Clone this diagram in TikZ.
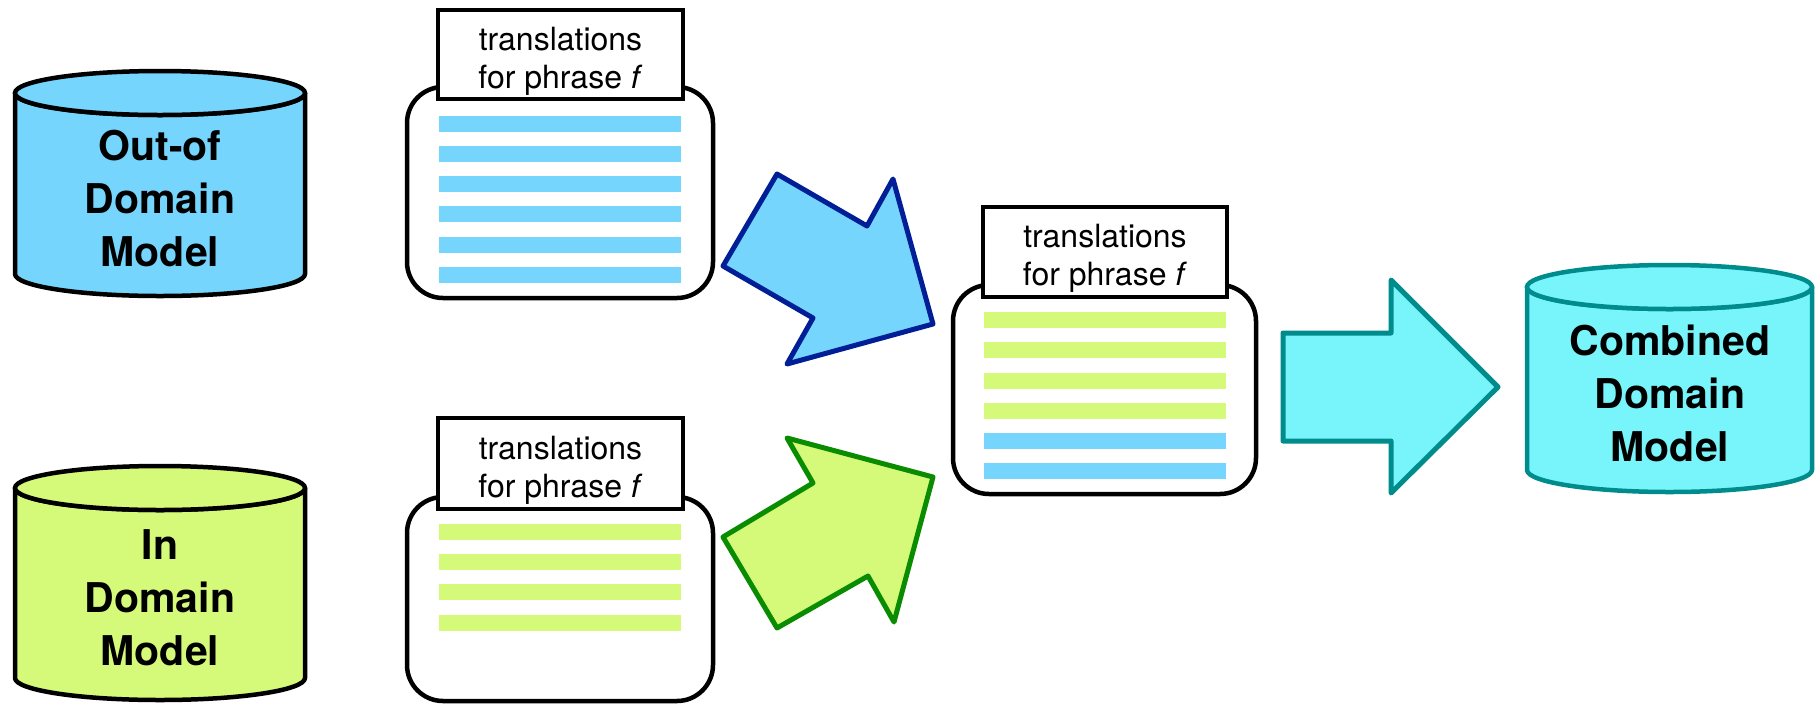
\documentclass[tikz,border=0pt]{standalone}
\usepackage{fontspec}
\setmainfont{TeX Gyre Heros}
\definecolor{lblue}{RGB}{117,213,253}
\definecolor{lgreen}{RGB}{213,250,122}
\definecolor{lcyan}{RGB}{119,245,251}
\definecolor{dteal}{RGB}{0,140,140}
\definecolor{dblue}{RGB}{0,30,150}
\definecolor{dgreen}{RGB}{10,140,0}
\newcommand\mycyl[7]{%
  \pgfmathsetmacro\mycx{(#1+#2)/2}\pgfmathsetmacro\myrx{(#2-#1)/2}%
  \filldraw[fill=#6,draw=#7,line width=4.5pt,line join=round] (#1,#3) -- (#1,#4) arc[start angle=180,end angle=0,x radius=\myrx,y radius=#5] -- (#2,#3) arc[start angle=0,end angle=180,x radius=\myrx,y radius=#5] -- cycle;
  \filldraw[fill=#6,draw=#7,line width=4.5pt] (\mycx,#3) ellipse [x radius=\myrx,y radius=#5];
}
\tikzset{
  cyltext/.style={align=center,font=\bfseries\fontsize{41}{53}\selectfont,inner sep=0pt},
  docbox/.style={draw=black,line width=4.5pt,rounded corners=36pt,fill=white,inner sep=0pt},
  labelbox/.style={draw=black,line width=4.5pt,fill=white,inner sep=0pt},
  labeltext/.style={align=center,font=\fontsize{32}{38}\selectfont,inner sep=0pt},
  blockarrow/.style={line width=5pt,line join=round}
}
\begin{document}
\begin{tikzpicture}[x=1pt,y=-1pt]
\useasboundingbox (0,0) rectangle (1816,705);
% cylinders
\mycyl{15}{305}{93}{274}{22}{lblue}{black}
\node[cyltext] (ood) at (160,198) {Out-of\\Domain\\Model};
\mycyl{15}{305}{488}{678}{22}{lgreen}{black}
\node[cyltext] (ind) at (160,598) {In\\Domain\\Model};
\mycyl{1527}{1812}{287}{470}{22}{lcyan}{dteal}
\node[cyltext] (comb) at (1670,393) {Combined\\Domain\\Model};
% doc boxes
\node[docbox,minimum width=306pt,minimum height=211pt] (doc1) at (560,192.5) {};
\node[labelbox,minimum width=245pt,minimum height=89pt] (lab1) at (560.5,54.5) {};
\node[labeltext] (txt1) at (560.5,61) {translations\\for phrase \textit{f}};
\foreach \y in {124,154,184,214,244.5,275}
  \fill[lblue] (439,\y-8) rectangle (681,\y+8);
\node[docbox,minimum width=306pt,minimum height=204pt] (doc2) at (560,599) {};
\node[labelbox,minimum width=245pt,minimum height=91pt] (lab2) at (560.5,463.5) {};
\node[labeltext] (txt2) at (560.5,470) {translations\\for phrase \textit{f}};
\foreach \y in {531.5,562,592,623}
  \fill[lgreen] (439,\y-8) rectangle (681,\y+8);
\node[docbox,minimum width=303pt,minimum height=209pt] (doc3) at (1104.5,389.5) {};
\node[labelbox,minimum width=244pt,minimum height=90pt] (lab3) at (1105,252) {};
\node[labeltext] (txt3) at (1105,258.5) {translations\\for phrase \textit{f}};
\foreach \y in {319.5,349.5,381,411}
  \fill[lgreen] (984,\y-8) rectangle (1226,\y+8);
\foreach \y in {441,471}
  \fill[lblue] (984,\y-8) rectangle (1226,\y+8);
% block arrows
\filldraw[blockarrow,fill=lblue,draw=dblue] (777,174) -- (867,226) -- (893,179) -- (933,324) -- (787,364) -- (813,318) -- (723,266) -- cycle;
\filldraw[blockarrow,fill=lgreen,draw=dgreen] (723,537) -- (813,483) -- (787,438) -- (933,477) -- (894,622) -- (868,576) -- (777,628) -- cycle;
\filldraw[blockarrow,fill=lcyan,draw=dteal] (1283,333) -- (1391,333) -- (1391,280) -- (1498,387) -- (1391,493) -- (1391,441) -- (1283,441) -- cycle;
\end{tikzpicture}
\end{document}
